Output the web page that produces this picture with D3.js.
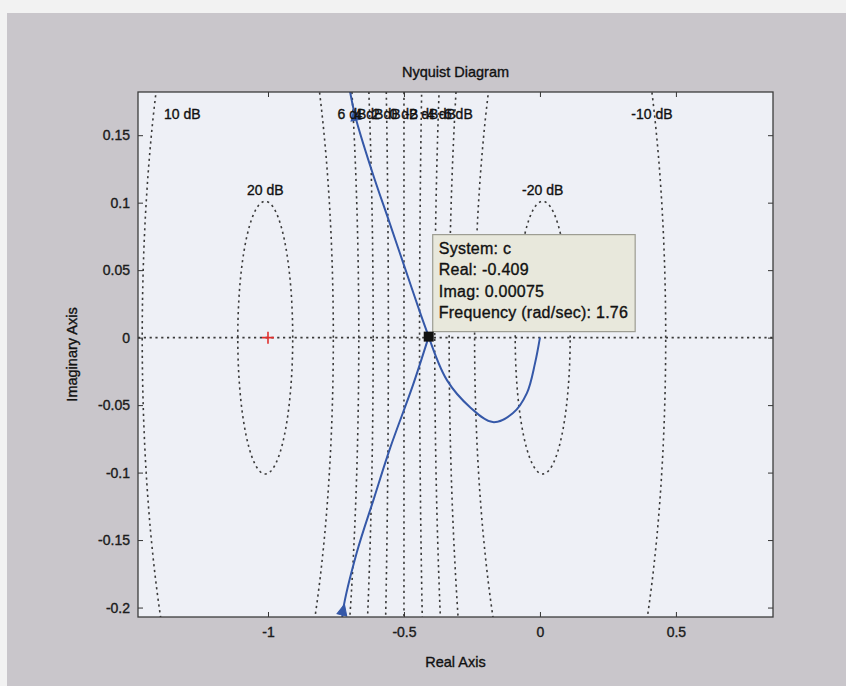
<!DOCTYPE html>
<html>
<head>
<meta charset="utf-8">
<script src="https://cdn.jsdelivr.net/npm/d3@7"></script>
<style>
  body { margin: 0; background: #f2f2f2; }
  svg { display: block; font-family: "Liberation Sans", Arial, sans-serif; }
  svg text { stroke: #111; stroke-width: 0.35px; }
</style>
</head>
<body>
<svg id="chart" width="846" height="686"></svg>
<script>
// grid levels (dB) drawn as M-circles
const dbLevels = [-20, -10, -6, -4, -2, 0, 2, 4, 6, 10, 20]

// Nyquist curve
const upperRe = [-0.705, -0.680, -0.6176, -0.555, -0.4963, -0.4375, -0.409]
const upperIm = [0.190, 0.1648, 0.1233, 0.0863, 0.0515, 0.0167, 0.00075]
const lowerRe = [-0.728, -0.724, -0.673, -0.610, -0.551, -0.467, -0.409]
const lowerIm = [-0.212, -0.2019, -0.1589, -0.1189, -0.0819, -0.0352, 0.00075]
const loopRe = [-0.409, -0.342, -0.257, -0.173, -0.099, -0.048, -0.018, 0]
const loopIm = [0.00075, -0.0315, -0.0515, -0.0626, -0.0559, -0.0411, -0.0189, 0]

const xTicks = [-1, -0.5, 0, 0.5]
const yTicks = [0.15, 0.1, 0.05, 0, -0.05, -0.1, -0.15, -0.2]

// data tip
const tipRe = -0.409
const tipIm = 0.00075
const tipLines = ["System: c", "Real: -0.409", "Imag: 0.00075", "Frequency (rad/sec): 1.76"]

const W = 846, H = 686
const pL = 138, pR = 773, pT = 92, pB = 617

const svg = d3.select('#chart')
const x = d3.scaleLinear().domain([-1.478, 0.857]).range([pL, pR])
const y = d3.scaleLinear().domain([-0.207, 0.182]).range([pB, pT])

// figure background
svg.append('rect').attr('x', 7).attr('y', 13).attr('width', W - 7).attr('height', H - 13)
    .attr('fill', '#c9c6cb')
svg.append('rect').attr('x', pL).attr('y', pT).attr('width', pR - pL).attr('height', pB - pT)
    .attr('fill', '#eef0f6')

svg.append('clipPath').attr('id', 'clip')
    .append('rect').attr('x', pL).attr('y', pT).attr('width', pR - pL).attr('height', pB - pT)

const plot = svg.append('g').attr('clip-path', 'url(#clip)')
const gridStyle = (sel) => sel.attr('fill', 'none').attr('stroke', '#3a3a3a')
    .attr('stroke-width', 1.6).attr('stroke-dasharray', '2.2,3.6')

// real axis
plot.append('line').attr('x1', pL).attr('x2', pR).attr('y1', y(0)).attr('y2', y(0))
    .call(gridStyle)

const line = d3.line().x(d => x(d[0])).y(d => y(d[1]))
const [ymin, ymax] = y.domain()
const [xmin, xmax] = x.domain()
const labels = []
dbLevels.forEach(db => {
    if (db === 0) {
        plot.append('line').attr('x1', x(-0.5)).attr('x2', x(-0.5)).attr('y1', pT).attr('y2', pB)
            .call(gridStyle)
        labels.push({ t: '0 dB', px: x(-0.5), py: pT + 27, anchor: 'middle' })
        return
    }
    const M = Math.pow(10, db / 20)
    const c = -M * M / (M * M - 1)
    const r = Math.abs(M / (M * M - 1))
    const pts = d3.range(0, 721).map(i => {
        const a = i / 720 * 2 * Math.PI
        return [c + r * Math.cos(a), r * Math.sin(a)]
    })
    plot.append('path').attr('d', line(pts)).call(gridStyle)
    const t = db + ' dB'
    if (r < ymax) {
        labels.push({ t: t, px: x(c), py: y(r) - 6, anchor: 'middle' })
    } else {
        // outermost crossing of the top edge that lies in view
        const h = Math.sqrt(r * r - ymax * ymax)
        const cand = [c - h, c + h].filter(v => v > xmin && v < xmax)
        const xc = d3.greatest(cand, v => Math.abs(v + 0.5))
        if (x(xc) - 20 < pL) labels.push({ t: t, px: x(xc) + 8, py: pT + 27, anchor: 'start' })
        else labels.push({ t: t, px: x(xc), py: pT + 27, anchor: 'middle' })
    }
})

svg.selectAll('text.db').data(labels).enter().append('text')
    .attr('class', 'db')
    .attr('x', d => d.px).attr('y', d => d.py)
    .attr('text-anchor', d => d.anchor)
    .attr('font-size', 14).attr('fill', '#111')
    .text(d => d.t)

// critical point
const cp = [x(-1), y(0)]
plot.append('path').attr('d', `M${cp[0] - 6},${cp[1]}H${cp[0] + 6}M${cp[0]},${cp[1] - 6}V${cp[1] + 6}`)
    .attr('stroke', '#e0302e').attr('stroke-width', 1.6)

// nyquist curve
const curve = d3.line().x(d => x(d[0])).y(d => y(d[1])).curve(d3.curveCatmullRom.alpha(0.5))
const upper = upperRe.map((v, i) => [v, upperIm[i]])
const lower = lowerRe.map((v, i) => [v, lowerIm[i]])
const loop = loopRe.map((v, i) => [v, loopIm[i]])
const blue = '#3558a8'
plot.append('path').attr('d', curve(upper)).attr('fill', 'none').attr('stroke', blue).attr('stroke-width', 2)
plot.append('path').attr('d', curve(lower)).attr('fill', 'none').attr('stroke', blue).attr('stroke-width', 2)
plot.append('path').attr('d', curve(loop)).attr('fill', 'none').attr('stroke', blue).attr('stroke-width', 2)

// direction arrows
function arrow(p, q) {
    const px = x(p[0]), py = y(p[1])
    const ang = Math.atan2(y(q[1]) - py, x(q[0]) - px) * 180 / Math.PI
    plot.append('path').attr('d', 'M6,0L-5,-5L-5,5Z')
        .attr('transform', `translate(${px},${py}) rotate(${ang})`)
        .attr('fill', blue).attr('stroke', blue)
}
arrow(upper[1], upper[0])
arrow(lower[1], lower[2])

// axes box and ticks
const fmt = d => String(+d.toFixed(2))
const ax = svg.append('g')
const axB = d3.axisBottom(x).tickValues(xTicks).tickFormat(fmt).tickSizeInner(-5).tickSizeOuter(0).tickPadding(10)
const axL = d3.axisLeft(y).tickValues(yTicks).tickFormat(fmt).tickSizeInner(-5).tickSizeOuter(0).tickPadding(8)
const axT = d3.axisTop(x).tickValues(xTicks).tickFormat('').tickSizeInner(-5).tickSizeOuter(0)
const axR = d3.axisRight(y).tickValues(yTicks).tickFormat('').tickSizeInner(-5).tickSizeOuter(0)
ax.append('g').attr('transform', `translate(0,${pB})`).call(axB)
ax.append('g').attr('transform', `translate(${pL},0)`).call(axL)
ax.append('g').attr('transform', `translate(0,${pT})`).call(axT)
ax.append('g').attr('transform', `translate(${pR},0)`).call(axR)
ax.selectAll('.domain').remove()
ax.selectAll('.tick line').attr('stroke', '#333')
ax.selectAll('.tick text').attr('fill', '#222').attr('font-family', '"Liberation Sans", Arial, sans-serif').attr('font-size', 14)
svg.append('rect').attr('x', pL).attr('y', pT).attr('width', pR - pL).attr('height', pB - pT)
    .attr('fill', 'none').attr('stroke', '#3c3c3c').attr('stroke-width', 1.3)

// titles
svg.append('text').attr('x', (pL + pR) / 2).attr('y', 77).attr('text-anchor', 'middle')
    .attr('font-size', 14.5).attr('fill', '#111').text('Nyquist Diagram')
svg.append('text').attr('x', (pL + pR) / 2).attr('y', 667).attr('text-anchor', 'middle')
    .attr('font-size', 14.5).attr('fill', '#111').text('Real Axis')
svg.append('text').attr('transform', `translate(77,${(pT + pB) / 2}) rotate(-90)`).attr('text-anchor', 'middle')
    .attr('font-size', 14.5).attr('fill', '#111').text('Imaginary Axis')

// data tip
const tx = x(tipRe), ty = y(tipIm)
const tip = svg.append('g')
const tipBox = tip.append('rect').attr('fill', '#e8e8dc').attr('stroke', '#9c9c92').attr('stroke-width', 1.2)
tip.selectAll('text').data(tipLines).enter().append('text')
    .attr('x', tx + 10).attr('y', (d, i) => ty - 83 + i * 21.5)
    .attr('font-size', 16).attr('letter-spacing', 0.25).attr('fill', '#111').text(d => d)
const bb = tip.node().getBBox()
tipBox.attr('x', tx + 4).attr('y', ty - 102).attr('width', bb.x + bb.width + 7 - (tx + 4)).attr('height', 97)
svg.append('rect').attr('x', tx - 5).attr('y', ty - 5).attr('width', 10).attr('height', 10).attr('fill', '#111')
</script>
</body>
</html>
